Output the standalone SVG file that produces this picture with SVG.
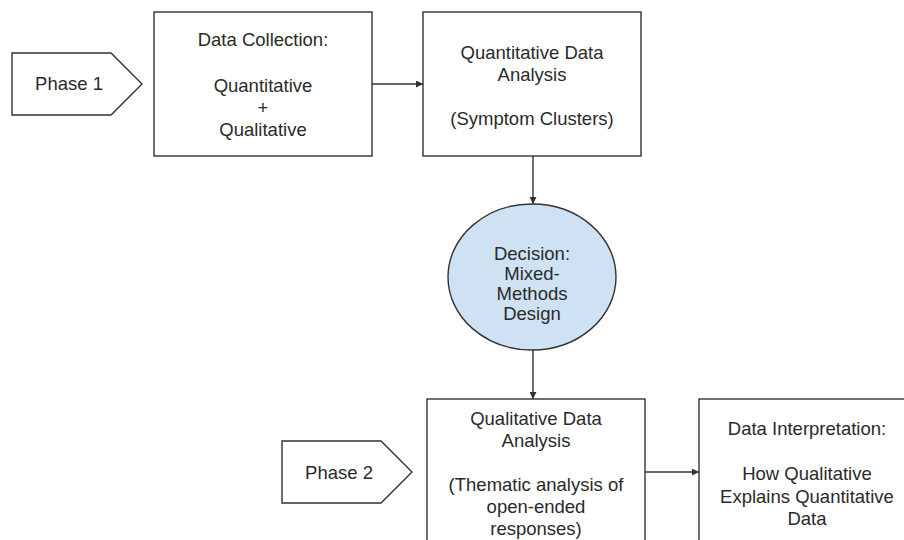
<svg xmlns="http://www.w3.org/2000/svg" width="904" height="540" viewBox="0 0 904 540">
  <style>
    .shape { fill: #ffffff; stroke: #333333; stroke-width: 1.4; }
    .decision { fill: #cfe2f3; stroke: #333333; stroke-width: 1.4; }
    .label { font-family: "Liberation Sans", Arial, sans-serif; font-size: 18.5px; fill: #2a2a2a; text-anchor: middle; }
    .edge { fill: none; stroke: #333333; stroke-width: 1.4; marker-end: url(#arrow); }
  </style>
  <defs>
    <marker id="arrow" viewBox="0 0 10 10" refX="10" refY="5" markerWidth="9" markerHeight="7" markerUnits="userSpaceOnUse" orient="auto">
      <path d="M0,0 L10,5 L0,10 z" fill="#333333"/>
    </marker>
  </defs>
  <rect width="904" height="540" fill="#ffffff"/>

  <!-- connectors -->
  <g id="connectors">
    <line class="edge" x1="372" y1="84" x2="423" y2="84"/>
    <line class="edge" x1="533" y1="156" x2="533" y2="204"/>
    <line class="edge" x1="533" y1="350" x2="533" y2="399"/>
    <line class="edge" x1="645" y1="472" x2="699" y2="472"/>
  </g>

  <!-- phase tags -->
  <g id="phase1">
    <polygon class="shape" points="12,53 111,53 142,84 111,115 12,115"/>
    <text class="label" x="69" y="90">Phase 1</text>
  </g>
  <g id="phase2">
    <polygon class="shape" points="282,441 381,441 412,472 381,503 282,503"/>
    <text class="label" x="339" y="479">Phase 2</text>
  </g>

  <!-- process boxes -->
  <g id="data-collection">
    <rect class="shape" x="154" y="12" width="218" height="144"/>
    <text class="label" x="263" y="46">Data Collection:</text>
    <text class="label" x="263" y="92">Quantitative</text>
    <text class="label" x="263" y="114">+</text>
    <text class="label" x="263" y="136">Qualitative</text>
  </g>
  <g id="quantitative-analysis">
    <rect class="shape" x="423" y="12" width="218" height="144"/>
    <text class="label" x="532" y="59">Quantitative Data</text>
    <text class="label" x="532" y="81">Analysis</text>
    <text class="label" x="532" y="125">(Symptom Clusters)</text>
  </g>
  <g id="decision">
    <ellipse class="decision" cx="532" cy="277" rx="84" ry="73"/>
    <text class="label" x="532" y="260">Decision:</text>
    <text class="label" x="532" y="280">Mixed-</text>
    <text class="label" x="532" y="300">Methods</text>
    <text class="label" x="532" y="320">Design</text>
  </g>
  <g id="qualitative-analysis">
    <rect class="shape" x="427" y="399" width="218" height="160"/>
    <text class="label" x="536" y="425">Qualitative Data</text>
    <text class="label" x="536" y="447">Analysis</text>
    <text class="label" x="536" y="491">(Thematic analysis of</text>
    <text class="label" x="536" y="513">open-ended</text>
    <text class="label" x="536" y="535">responses)</text>
  </g>
  <g id="data-interpretation">
    <rect class="shape" x="699" y="399" width="218" height="160"/>
    <text class="label" x="807" y="435">Data Interpretation:</text>
    <text class="label" x="807" y="480">How Qualitative</text>
    <text class="label" x="807" y="503">Explains Quantitative</text>
    <text class="label" x="807" y="525">Data</text>
  </g>
</svg>
